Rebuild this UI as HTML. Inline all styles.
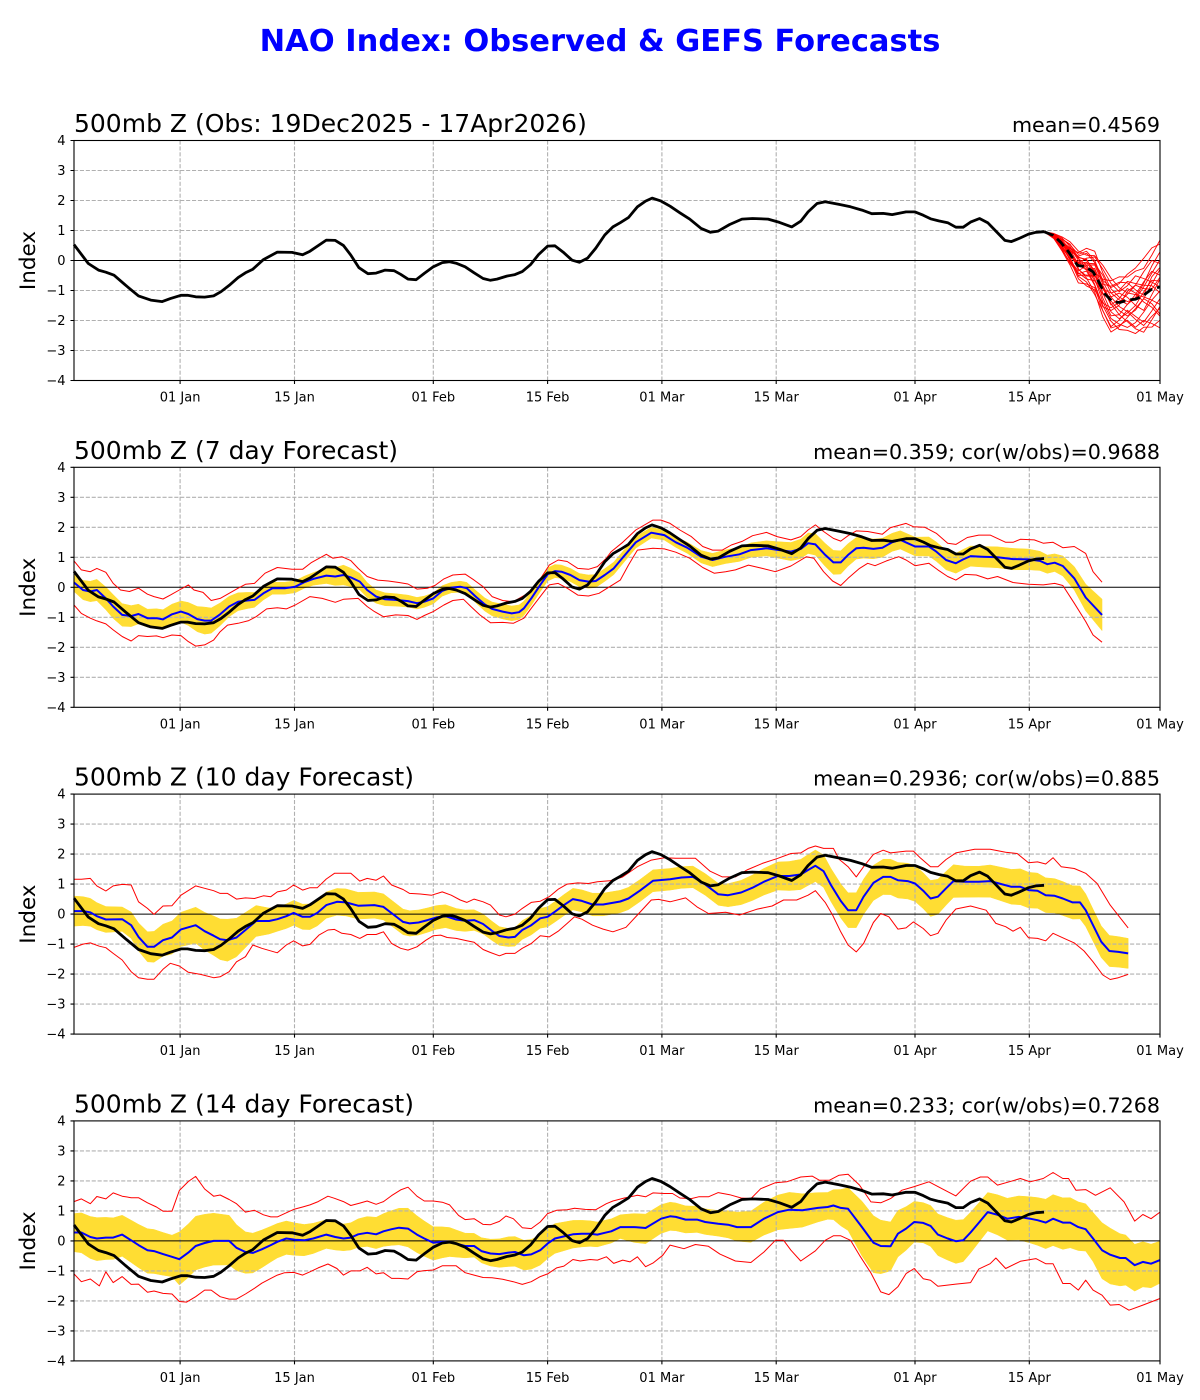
<!DOCTYPE html>
<html>
<head>
<meta charset="utf-8">
<style>
html,body{margin:0;padding:0;background:#fff;}
svg{display:block;}
text{font-family:"DejaVu Sans","Liberation Sans",sans-serif;fill:#000;}
</style>
</head>
<body>
<svg id="s" width="1200" height="1400" viewBox="0 0 1200 1400" xmlns="http://www.w3.org/2000/svg">
<rect x="0" y="0" width="1200" height="1400" fill="#fff"/>
<defs>
<g id="grid" stroke="#b0b0b0" stroke-width="1.1" stroke-dasharray="4.1,1.8" fill="none">
<path d="M74,30H1160M74,60H1160M74,90H1160M74,150H1160M74,180H1160M74,210H1160"/>
<path d="M180.1,0V240M294.5,0V240M433.3,0V240M547.6,0V240M661.9,0V240M776.2,0V240M915,0V240M1029.3,0V240"/>
</g>
<g id="axes">
<rect x="74" y="0" width="1086" height="240" fill="none" stroke="#000" stroke-width="1.1"/>
<path d="M70.5,0H74M70.5,30H74M70.5,60H74M70.5,90H74M70.5,120H74M70.5,150H74M70.5,180H74M70.5,210H74M70.5,240H74M180.1,240V243.5M294.5,240V243.5M433.3,240V243.5M547.6,240V243.5M661.9,240V243.5M776.2,240V243.5M915,240V243.5M1029.3,240V243.5M1160,240V243.5" stroke="#000" stroke-width="1.1" fill="none"/>
<g font-size="13" text-anchor="end">
<text x="65.5" y="4.5">4</text>
<text x="65.5" y="34.5">3</text>
<text x="65.5" y="64.5">2</text>
<text x="65.5" y="94.5">1</text>
<text x="65.5" y="124.5">0</text>
<text x="65.5" y="154.5">−1</text>
<text x="65.5" y="184.5">−2</text>
<text x="65.5" y="214.5">−3</text>
<text x="65.5" y="244.5">−4</text>
</g>
<g font-size="13" text-anchor="middle">
<text x="180.1" y="261">01 Jan</text>
<text x="294.5" y="261">15 Jan</text>
<text x="433.3" y="261">01 Feb</text>
<text x="547.6" y="261">15 Feb</text>
<text x="661.9" y="261">01 Mar</text>
<text x="776.2" y="261">15 Mar</text>
<text x="915" y="261">01 Apr</text>
<text x="1029.3" y="261">15 Apr</text>
<text x="1160" y="261">01 May</text>
</g>
</g>
</defs>

<text x="600" y="51" text-anchor="middle" font-size="30.5" font-weight="bold" style="fill:#0000ff">NAO Index: Observed &amp; GEFS Forecasts</text>

<g transform="translate(0,140.5)">
<use href="#grid"/>
<line x1="74" y1="120" x2="1160" y2="120" stroke="#000" stroke-width="1"/>
<g id="L0"></g>
<use href="#axes"/>
<text x="74" y="-8.5" font-size="25">500mb Z (Obs: 19Dec2025 - 17Apr2026)</text>
<text x="1160" y="-8.5" font-size="20.65" text-anchor="end">mean=0.4569</text>
<text transform="translate(35,120) rotate(-90)" font-size="21.5" text-anchor="middle">Index</text>
</g>

<g transform="translate(0,467.3)">
<g id="B1"></g>
<use href="#grid"/>
<line x1="74" y1="120" x2="1160" y2="120" stroke="#000" stroke-width="1"/>
<g id="L1"></g>
<use href="#axes"/>
<text x="74" y="-8.5" font-size="25">500mb Z (7 day Forecast)</text>
<text x="1160" y="-8.5" font-size="20.65" text-anchor="end">mean=0.359; cor(w/obs)=0.9688</text>
<text transform="translate(35,120) rotate(-90)" font-size="21.5" text-anchor="middle">Index</text>
</g>

<g transform="translate(0,794.1)">
<g id="B2"></g>
<use href="#grid"/>
<line x1="74" y1="120" x2="1160" y2="120" stroke="#000" stroke-width="1"/>
<g id="L2"></g>
<use href="#axes"/>
<text x="74" y="-8.5" font-size="25">500mb Z (10 day Forecast)</text>
<text x="1160" y="-8.5" font-size="20.65" text-anchor="end">mean=0.2936; cor(w/obs)=0.885</text>
<text transform="translate(35,120) rotate(-90)" font-size="21.5" text-anchor="middle">Index</text>
</g>

<g transform="translate(0,1120.9)">
<g id="B3"></g>
<use href="#grid"/>
<line x1="74" y1="120" x2="1160" y2="120" stroke="#000" stroke-width="1"/>
<g id="L3"></g>
<use href="#axes"/>
<text x="74" y="-8.5" font-size="25">500mb Z (14 day Forecast)</text>
<text x="1160" y="-8.5" font-size="20.65" text-anchor="end">mean=0.233; cor(w/obs)=0.7268</text>
<text transform="translate(35,120) rotate(-90)" font-size="21.5" text-anchor="middle">Index</text>
</g>
</svg>

<script>
(function(){
var NS='http://www.w3.org/2000/svg';
function X(d){return 74+d*1086/133;}
function Y(v){return 120-30*v;}
function poly(parent,pts,attrs,tag){
  var e=document.createElementNS(NS,tag||'polyline');
  e.setAttribute('points',pts.map(function(p){return p[0].toFixed(2)+','+p[1].toFixed(2);}).join(' '));
  for(var k in attrs) e.setAttribute(k,attrs[k]);
  parent.appendChild(e);
}
function toPts(arr){var p=[];for(var i=0;i<arr.length;i+=2)p.push([X(arr[i]),Y(arr[i+1])]);return p;}
function itp(tab,d){
  if(d<=tab[0][0])return [tab[0][1],tab[0][2]];
  for(var i=1;i<tab.length;i++){
    if(d<=tab[i][0]){var a=tab[i-1],b=tab[i],t=(d-a[0])/(b[0]-a[0]);return [a[1]+t*(b[1]-a[1]),a[2]+t*(b[2]-a[2])];}
  }
  var l=tab[tab.length-1];return [l[1],l[2]];
}
function band(parent,blue,off){
  var up=[],lo=[];
  for(var i=0;i<blue.length;i+=2){
    var d=blue[i],v=blue[i+1],o=itp(off,d);
    up.push([X(d),Y(v+o[0])]);lo.push([X(d),Y(v-o[1])]);
  }
  poly(parent,up.concat(lo.reverse()),{fill:'#ffdd33',stroke:'#ffdd33','stroke-width':'0.5'},'polygon');
}
function sym(a){return a.map(function(r){return [r[0],r[1],r[1]];});}

var OBS=[0,0.53,1.75,-0.1,3,-0.32,3.9,-0.39,4.9,-0.49,6.3,-0.82,7.9,-1.18,9.4,-1.32,10.8,-1.37,11.8,-1.27,13.1,-1.16,13.9,-1.16,14.9,-1.21,16,-1.22,17.1,-1.18,18,-1.04,19,-0.83,20.1,-0.57,21,-0.41,21.9,-0.29,23.2,0.03,24.9,0.28,26.7,0.27,28,0.19,28.9,0.31,30.9,0.68,32,0.67,33,0.5,33.9,0.18,34.9,-0.24,36,-0.44,37,-0.42,38.1,-0.32,39.2,-0.34,40,-0.46,40.9,-0.62,41.9,-0.64,42.9,-0.43,44,-0.21,45.1,-0.07,46,-0.04,46.8,-0.09,47.9,-0.21,49,-0.41,50.1,-0.6,51,-0.66,51.8,-0.62,53,-0.52,54,-0.47,54.9,-0.37,55.9,-0.14,56.9,0.2,58,0.48,58.9,0.49,59.9,0.28,61,0.01,61.9,-0.06,62.9,0.08,63.9,0.41,65,0.85,66,1.12,66.9,1.26,67.9,1.43,69,1.79,70,1.98,70.8,2.08,71.9,1.98,73,1.81,74.2,1.59,75.4,1.38,76.8,1.07,77.95,0.94,78.9,0.98,80.3,1.2,81.8,1.38,83.1,1.4,85,1.38,86.4,1.27,87.9,1.12,89,1.31,89.9,1.62,91,1.9,92,1.96,93.7,1.87,95.1,1.79,96.5,1.68,97.7,1.56,99.1,1.57,100.2,1.53,101.9,1.62,103,1.62,104,1.51,104.9,1.39,105.9,1.32,107,1.26,108,1.11,108.9,1.11,109.8,1.28,110.9,1.4,111.9,1.26,112.9,0.98,114,0.67,114.8,0.63,115.7,0.73,116.9,0.88,117.8,0.94,118.8,0.96];

var OBSATTR={fill:'none',stroke:'#000','stroke-width':'2.8','stroke-linejoin':'round'};

/* ---- Panel 0: observed + ensemble ---- */
var L0=document.getElementById('L0');
var ED=[118.8,120,121,122,123,124,125,126,127,128,129,130,131,132,133];
var EM=[0.96,0.82,0.56,0.22,-0.16,-0.22,-0.45,-1.0,-1.35,-1.4,-1.32,-1.29,-1.16,-0.96,-0.88];
var ES=[0,0.05,0.12,0.2,0.28,0.33,0.38,0.42,0.45,0.45,0.48,0.52,0.56,0.6,0.65];
var Z=[
[0,1.0,1.2,1.5,1.3,1.6,1.2,0.8,1.0,1.4,1.8,2.0,2.2,2.3,2.2],
[0,-1.0,-1.2,-0.8,-1.3,-1.5,-1.8,-1.6,-2.0,-1.7,-1.4,-1.8,-1.5,-1.9,-2.1],
[0,0.5,0.8,0.3,-0.2,0.4,0.9,1.2,0.6,0.2,-0.3,0.1,0.7,1.3,1.8],
[0,-0.4,0.2,0.6,1.0,0.7,0.3,-0.2,-0.8,-1.2,-0.9,-0.4,0.2,0.5,0.3],
[0,1.3,1.6,1.2,0.8,0.2,-0.4,-0.9,-1.3,-1.6,-1.9,-1.5,-1.0,-0.6,-0.9],
[0,-1.5,-1.8,-1.4,-0.9,-1.2,-0.6,0.1,0.6,0.9,1.3,1.0,0.6,0.2,-0.3],
[0,0.2,-0.5,-1.0,-1.6,-1.9,-1.4,-1.0,-0.5,0.0,0.4,0.9,1.4,1.6,1.2],
[0,0.8,0.4,-0.2,0.3,0.9,1.5,1.7,1.3,0.8,1.0,1.5,1.0,0.4,0.0],
[0,-0.7,-0.3,0.1,-0.5,-0.9,-0.2,0.4,0.0,-0.6,-1.1,-0.7,-0.2,-0.8,-1.4],
[0,1.6,1.9,2.0,1.7,1.2,1.6,2.0,1.7,1.1,0.5,0.3,0.8,1.0,0.6],
[0,-1.8,-2.0,-1.9,-2.1,-1.7,-1.2,-1.6,-1.9,-1.3,-0.7,-1.1,-1.6,-1.2,-0.6],
[0,0.0,0.5,1.0,0.6,0.0,-0.6,-0.3,0.3,0.7,0.2,-0.4,-0.9,-0.3,0.4],
[0,-0.2,-0.8,-0.5,0.2,0.5,0.0,-0.6,-1.1,-0.9,-0.3,0.3,-0.1,-0.6,-0.2],
[0,0.6,1.0,0.7,0.1,-0.3,0.5,0.2,-0.3,0.3,0.8,0.4,-0.4,-1.0,-1.5],
[0,-1.2,-0.6,-1.1,-0.7,0.2,0.8,0.5,1.1,1.5,1.2,0.6,0.0,0.7,1.0],
[0,0.4,-0.1,0.4,1.1,1.4,1.0,0.7,0.3,-0.3,-0.8,-1.3,-1.8,-1.5,-1.1],
[0,-0.5,-1.4,-1.6,-1.0,-0.4,-1.0,-1.3,-0.7,-0.2,0.6,0.9,0.4,0.0,0.5],
[0,1.1,0.6,0.9,1.5,1.9,2.0,1.4,0.9,0.4,-0.1,0.0,0.5,0.9,1.4],
[0,-0.9,-1.0,-0.3,0.4,-0.2,-0.9,-1.2,-1.5,-2.0,-2.1,-2.2,-1.9,-2.1,-1.7],
[0,0.3,1.3,1.6,0.9,0.8,0.1,0.9,1.5,1.9,1.6,1.8,1.6,1.9,2.4],
[0,0.7,0.9,0.4,-0.4,-1.1,-1.6,-2.1,-2.3,-1.8,-1.2,-0.6,-0.2,0.3,0.9],
[0,-0.3,0.1,-0.6,-1.2,-0.8,-0.1,0.3,-0.2,-0.9,-1.5,-1.9,-2.2,-1.7,-1.0]
];
Z.forEach(function(z){
  var p=[];for(var i=0;i<ED.length;i++)p.push([X(ED[i]),Y(EM[i]+ES[i]*z[i])]);
  poly(L0,p,{fill:'none',stroke:'#ff0000','stroke-width':'0.9','stroke-linejoin':'round'});
});
var MEANF=[118.8,0.96,119.9,0.84,120.8,0.62,121.8,0.29,122.9,-0.16,123.9,-0.21,124.8,-0.38,125.5,-0.71,126.2,-1.1,127.2,-1.38,128.1,-1.4,129,-1.32,130,-1.29,130.9,-1.18,131.9,-0.97,133,-0.88];
poly(L0,toPts(MEANF),{fill:'none',stroke:'#000','stroke-width':'2.8','stroke-dasharray':'10,5'});
poly(L0,toPts(OBS),OBSATTR);

/* ---- Panel 1: 7 day ---- */
var BL2=[0,0.16,1.1,-0.09,2,-0.14,2.8,-0.09,3.9,-0.37,4.8,-0.64,5.9,-0.92,7,-0.96,7.9,-0.89,9,-1.03,10.1,-1.03,10.9,-1.07,12,-0.9,13.1,-0.81,14,-0.89,15.1,-1.06,16,-1.11,16.8,-1.11,17.9,-0.9,19,-0.64,20.1,-0.48,21.2,-0.44,22.1,-0.42,23.2,-0.2,24.3,-0.03,25.8,-0.03,27.1,0.02,28.2,0.17,29.3,0.28,30.9,0.39,32,0.36,33,0.41,33.9,0.33,35,0.19,35.9,-0.09,37,-0.31,38.1,-0.4,39.4,-0.42,40.9,-0.46,42,-0.53,42.9,-0.48,44,-0.37,45.1,-0.12,46.2,-0.01,47.3,0.02,48.1,-0.03,49.2,-0.31,50.3,-0.57,51.2,-0.72,52.5,-0.81,53.6,-0.87,54.5,-0.83,55.1,-0.7,56,-0.37,57.1,0.08,58,0.43,58.9,0.54,59.7,0.52,60.8,0.41,61.9,0.24,63,0.19,63.9,0.21,65,0.41,66.1,0.63,67.2,0.99,68.8,1.5,70.7,1.82,72.3,1.74,73.7,1.5,75.1,1.32,76.8,1.02,78.2,0.91,79.8,1.02,81.5,1.1,82.9,1.24,84.8,1.3,86.4,1.24,87.8,1.19,89,1.28,89.9,1.47,90.8,1.43,92,1.08,93,0.83,93.9,0.83,94.8,1.08,95.8,1.3,96.7,1.32,97.9,1.28,99,1.32,100.2,1.5,101.2,1.58,102.1,1.47,103,1.36,104.7,1.36,105.6,1.19,106.8,0.91,108,0.8,108.9,0.93,109.8,1.04,111.2,1.02,113.1,1.0,115,0.94,116.9,0.93,118.3,0.88,119.2,0.77,120.1,0.82,121.1,0.71,122.5,0.3,123.9,-0.34,125.9,-0.92];
var OFF2=sym([[0,0.3],[5,0.4],[9,0.3],[13,0.35],[16,0.45],[20,0.3],[24,0.2],[29,0.2],[33,0.33],[37,0.22],[46,0.17],[53,0.25],[58,0.22],[63,0.22],[68,0.2],[73,0.16],[78,0.22],[85,0.25],[93,0.4],[100,0.3],[108,0.33],[116,0.36],[120,0.29],[126,0.53]]);
var RU2=[0,0.88,0.9,0.58,2,0.52,2.8,0.63,3.9,0.5,4.8,0.13,5.7,-0.09,6.8,-0.14,7.9,-0.03,9,-0.23,9.8,-0.31,10.9,-0.39,11.8,-0.26,12.9,-0.09,14,0.08,14.7,-0.09,15.8,-0.17,16.8,-0.44,17.9,-0.37,19,-0.2,20.1,-0.03,21,0.1,22.1,0.13,23.4,0.47,24.9,0.66,26.7,0.6,28,0.6,29.1,0.83,30.9,1.1,31.7,0.97,32.8,1.02,33.9,0.89,34.8,0.63,35.9,0.36,37.2,0.24,38.5,0.21,39.8,0.16,40.9,0.11,42,-0.06,43.3,-0.03,44.2,0.06,45.3,0.28,46.4,0.41,47.9,0.44,49,0.24,50.1,0.02,51.2,-0.31,52.5,-0.44,53.8,-0.48,54.9,-0.31,55.8,-0.17,56.9,0.19,58.2,0.74,59.3,0.91,60.4,0.86,61.7,0.63,63,0.6,64.1,0.69,65.2,0.97,65.8,1.19,67.2,1.5,68.8,1.91,70.9,2.24,71.9,2.24,73,2.13,74.2,1.91,75.6,1.69,77,1.36,78.2,1.24,79.4,1.24,80.5,1.41,81.9,1.54,83.1,1.72,84.8,1.83,86.1,1.69,87.8,1.58,89,1.69,89.9,1.91,90.8,2.08,91.8,1.86,93,1.63,93.9,1.54,94.8,1.72,95.8,1.88,97.2,1.86,99,1.77,100,1.99,101.9,2.13,102.8,2.02,104.2,2.0,105.6,1.8,107,1.47,108,1.43,109.4,1.66,110.8,1.74,112.2,1.74,114.1,1.5,115,1.5,115.9,1.6,117.6,1.58,118.7,1.47,119.9,1.5,121.1,1.32,122.5,1.36,123.9,1.13,124.8,0.52,125.9,0.17];
var RL2=[0,-0.59,0.9,-0.87,2,-1.03,2.8,-1.12,3.9,-1.22,4.8,-1.42,5.9,-1.64,7,-1.79,7.9,-1.61,9,-1.64,10.1,-1.62,10.9,-1.68,12,-1.59,13.1,-1.61,14,-1.81,14.9,-1.96,16,-1.92,17.1,-1.76,17.9,-1.48,18.8,-1.26,20.1,-1.2,21.4,-1.11,22.3,-0.98,23.6,-0.72,24.9,-0.68,26,-0.72,27.1,-0.59,28.9,-0.31,30.4,-0.37,32,-0.5,33,-0.4,34.8,-0.37,35.9,-0.64,36.8,-0.81,37.9,-0.98,39.4,-0.92,40.9,-0.94,42,-1.07,42.9,-0.94,44,-0.81,45.3,-0.59,46.4,-0.44,47.7,-0.4,48.6,-0.64,49.7,-0.92,51,-1.18,52.5,-1.17,53.8,-1.2,55.1,-1.03,56,-0.7,57.1,-0.31,58.2,0.08,59.3,0.13,60.4,-0.03,61.7,-0.26,63,-0.29,64.3,-0.2,65.6,0.02,66.9,0.24,67.9,0.74,69,1.24,70.9,1.3,72.3,1.28,73.7,1.17,75.4,0.97,77,0.66,78.4,0.47,79.8,0.52,81,0.58,82.6,0.74,84.3,0.63,85.9,0.52,87.8,0.71,89.7,1.02,90.6,0.97,91.8,0.52,92.9,0.21,93.9,0.06,94.8,0.3,96.2,0.63,97.2,0.8,98.1,0.72,99.5,0.88,101,1.02,101.9,0.91,103,0.72,104.7,0.8,105.8,0.58,107,0.36,108,0.24,109.1,0.43,110.5,0.41,111.9,0.28,113.1,0.36,115,0.16,116.9,0.1,118.7,0.08,120.1,0.13,121.1,0.06,122.5,-0.53,123.9,-1.14,124.8,-1.59,125.9,-1.83];

/* ---- Panel 2: 10 day ---- */
var BL3=[0,0.1,1.1,0.1,2,0.06,2.8,-0.07,3.9,-0.18,5.9,-0.17,7,-0.37,7.9,-0.76,9,-1.09,9.8,-1.09,10.9,-0.87,12,-0.78,13.1,-0.51,14.9,-0.37,16,-0.57,17.1,-0.72,17.9,-0.84,18.8,-0.87,19.9,-0.78,21,-0.53,22.3,-0.23,23.9,-0.23,24.9,-0.17,26,-0.07,26.9,0.04,28,-0.09,28.9,-0.09,29.8,0.04,30.9,0.3,32.2,0.41,33.3,0.39,34.8,0.28,36.8,0.3,37.9,0.24,39.2,-0.03,40.3,-0.26,41.1,-0.31,42.2,-0.28,43.3,-0.2,44.4,-0.11,45.5,-0.07,46.8,-0.18,47.9,-0.22,49,-0.2,50.1,-0.33,51.2,-0.56,52.1,-0.73,53.2,-0.78,54,-0.76,54.9,-0.53,56,-0.37,57.1,-0.14,58,-0.09,58.9,0.08,60,0.3,61.1,0.5,62.2,0.44,63.5,0.32,64.8,0.32,66.9,0.42,67.9,0.52,69.3,0.78,70.9,1.11,73,1.16,74.4,1.22,75.8,1.24,77.3,0.99,78.9,0.66,80.1,0.63,81.7,0.72,83.1,0.88,84.5,1.08,86.2,1.27,87.6,1.27,89,1.32,89.9,1.47,90.8,1.61,91.8,1.43,92.7,0.97,93.9,0.44,94.8,0.13,95.8,0.13,96.7,0.58,97.9,1.04,99.1,1.24,100,1.24,100.9,1.13,102.1,1.1,103,1.02,104,0.78,104.9,0.52,105.8,0.58,106.8,0.86,107.7,1.1,109.1,1.08,110.8,1.08,112.2,1.1,113.3,1.02,114.8,0.91,115.9,0.91,116.9,0.8,118,0.78,119,0.63,120.1,0.61,121.1,0.52,122.3,0.39,123.2,0.39,123.9,0.13,124.8,-0.37,125.8,-0.92,126.8,-1.23,127.9,-1.26,129.1,-1.31];
var OFF3=sym([[0,0.5],[5.7,0.4],[9,0.5],[14.9,0.6],[18.8,0.7],[24.5,0.4],[33,0.45],[42,0.42],[53,0.3],[64,0.38],[72.6,0.36],[78.4,0.36],[85,0.45],[94.8,0.58],[104.9,0.6],[110,0.5],[116,0.6],[123,0.55],[129,0.5]]);
var RU3=[0,1.16,0.9,1.16,2,1.19,2.8,0.94,3.9,0.77,4.8,0.94,5.9,0.99,7,0.97,7.9,0.41,9,0.19,9.8,-0.01,10.9,0.27,12,0.28,13.1,0.63,14.9,0.94,16,0.86,17.1,0.78,17.9,0.69,18.8,0.69,19.9,0.5,21,0.54,22.1,0.52,23.2,0.61,24.1,0.58,24.9,0.74,26,0.8,26.9,0.97,28,0.8,28.9,0.88,29.8,0.88,30.9,1.17,31.9,1.36,33.9,1.36,35,1.1,35.9,1.19,37,1.13,37.9,1.27,38.9,0.97,40.3,0.82,41.1,0.69,42.4,0.67,43.8,0.63,45.1,0.74,46.2,0.63,47.3,0.47,48.1,0.39,49,0.5,50.1,0.41,51,0.3,52.1,-0.03,52.9,-0.09,54,0,54.9,0.19,56,0.39,57.1,0.43,58.2,0.58,59.3,0.83,60.4,1.0,61.7,1.04,63,1.02,64.1,1.08,65.6,1.11,66.9,1.21,67.2,1.24,69,1.58,70.7,1.8,72.3,1.88,73.7,1.86,76.1,1.86,77.9,1.43,79.4,1.24,81,1.24,82.4,1.47,84.3,1.69,86.2,1.86,87.8,2.02,89,2.04,89.9,2.19,90.8,2.27,91.8,2.19,93,2.19,93.7,1.83,94.8,1.58,95.8,1.24,96.7,1.58,97.9,1.99,99.1,2.13,100,2.04,101.9,2.1,102.8,2.1,103.7,1.86,104.9,1.58,105.8,1.58,106.8,1.82,108,2.04,110.3,2.16,112.2,2.16,114.1,2.06,115.5,2.02,116.9,1.71,118,1.74,119,1.67,119.9,1.88,120.9,1.58,122.5,1.52,123.9,1.36,125.3,1.02,126.9,0.3,129.1,-0.46];
var RL3=[0,-1.11,1.1,-1.0,2,-0.96,3.1,-1.07,3.9,-1.12,4.8,-1.31,5.9,-1.53,7,-1.92,7.9,-2.12,9,-2.17,9.8,-2.17,10.9,-1.84,11.8,-1.64,12.9,-1.73,14,-1.94,15.5,-2.01,17.1,-2.12,17.9,-2.09,19,-1.92,19.9,-1.59,21,-1.42,21.9,-1.03,23,-1.14,24.9,-1.29,26,-1.03,26.9,-0.89,28,-1.06,28.9,-1.01,30,-0.7,31.1,-0.53,31.9,-0.51,32.8,-0.64,33.9,-0.68,35,-0.81,35.9,-0.68,37,-0.68,37.9,-0.59,38.9,-0.98,40,-1.14,40.9,-1.2,42,-1.09,43.1,-0.87,44,-0.72,44.9,-0.7,45.7,-0.78,46.8,-0.81,48.1,-0.89,49,-0.94,50.1,-1.18,51,-1.28,52.1,-1.39,52.9,-1.31,54,-1.31,54.9,-1.14,56,-0.98,57.1,-0.72,58.2,-0.76,59.3,-0.57,60.4,-0.31,61.3,-0.09,62.2,-0.17,63.5,-0.37,64.8,-0.5,66,-0.59,67.6,-0.44,69,-0.03,70.7,0.47,71.6,0.49,73,0.41,74.9,0.54,76.3,0.24,77.7,0.02,79.8,0.06,81.5,-0.03,83.6,0.16,85.5,0.27,86.9,0.47,88.5,0.47,89.9,0.63,90.8,0.78,92,0.39,92.9,-0.03,93.9,-0.59,94.8,-1.03,95.8,-1.26,96.7,-0.98,97.9,-0.28,98.8,0.02,99.8,-0.09,100.9,-0.5,101.9,-0.46,102.8,-0.26,104,-0.48,104.9,-0.72,105.8,-0.64,106.8,-0.2,108,0.17,109.8,0.27,111.7,0.13,112.9,-0.31,114.1,-0.42,115,-0.57,115.9,-0.44,116.9,-0.79,118,-0.81,119,-0.89,119.9,-0.64,121.1,-0.79,122.5,-0.96,123.7,-1.23,124.8,-1.59,126,-2.03,126.9,-2.18,127.9,-2.12,129.1,-2.01];

/* ---- Panel 3: 14 day ---- */
var BL4=[0,0.28,0.9,0.28,2,0.13,2.8,0.08,3.9,0.11,4.8,0.11,5.9,0.21,7,0.02,7.9,-0.14,9,-0.31,9.8,-0.34,10.9,-0.44,12,-0.53,12.9,-0.61,14,-0.39,14.9,-0.17,16,-0.07,17.1,0,19,0,19.9,-0.23,21,-0.37,21.9,-0.4,23,-0.28,24.1,-0.14,24.9,-0.03,26,0.08,27.1,0.04,28.2,0.02,29.3,0.08,29.9,0.13,30.9,0.21,32,0.13,33,0.08,33.9,0.11,34.8,0.22,35.9,0.27,37,0.22,37.9,0.32,38.9,0.39,39.8,0.44,40.9,0.41,42,0.21,42.9,0.08,44,-0.06,45.1,-0.03,46,-0.03,46.8,-0.09,47.9,-0.17,49,-0.17,49.9,-0.34,51,-0.42,52.1,-0.44,53.2,-0.39,54,-0.37,55.1,-0.48,56,-0.45,57.1,-0.31,58,-0.09,58.9,0.08,60,0.15,61.1,0.22,62.2,0.24,63.2,0.24,64.1,0.21,65,0.27,65.8,0.32,66.9,0.46,68.6,0.46,70,0.43,71.9,0.74,73,0.82,73.7,0.8,74.9,0.71,76.3,0.71,77.3,0.63,78.9,0.57,80.1,0.54,81.2,0.46,82.9,0.46,84.5,0.74,86.2,0.96,87.6,1.04,89.2,1.02,91.1,1.1,92.3,1.13,93,1.18,93.9,1.1,94.8,1.07,96.5,0.46,97.9,-0.06,98.8,-0.17,100,-0.18,100.9,0.24,101.9,0.41,102.9,0.63,104,0.6,104.9,0.5,105.8,0.21,107,0.08,108,-0.01,108.9,0.02,109.8,0.28,110.8,0.6,111.9,0.96,113.1,0.87,114.3,0.74,115.7,0.8,117.1,0.74,118,0.69,119,0.61,119.9,0.74,121.1,0.61,122,0.61,123,0.46,123.9,0.39,124.8,0.08,125.9,-0.31,126.9,-0.46,128.1,-0.57,128.8,-0.57,129.9,-0.81,130.9,-0.7,131.9,-0.76,133,-0.64];
var OFF4=[[0,0.63,0.64],[2.6,0.7,0.74],[5.7,0.64,0.72],[9.2,0.72,0.77],[12,0.72,0.66],[12.9,0.91,0.86],[14.9,0.99,0.8],[18.8,0.87,0.81],[21,0.67,0.71],[24.5,0.62,0.54],[28.9,0.51,0.51],[33.3,0.48,0.4],[37.6,0.58,0.49],[40.9,0.68,0.61],[44.2,0.52,0.58],[48.6,0.41,0.36],[52.9,0.53,0.46],[55.1,0.5,0.49],[58.6,0.5,0.5],[63.9,0.42,0.41],[66.9,0.41,0.38],[69,0.46,0.54],[73,0.47,0.47],[78.4,0.43,0.4],[83.1,0.54,0.51],[87.8,0.58,0.63],[92.5,0.48,0.4],[97.2,0.93,1.06],[100,0.81,0.82],[103.3,0.67,0.65],[108,0.7,0.74],[111.7,0.65,0.62],[115.9,0.7,0.77],[120.6,0.82,0.92],[124.4,0.85,0.7],[126.2,0.93,1.0],[130,0.69,0.86],[133,0.63,0.77]];
var RU4=[0,1.31,0.9,1.4,2,1.24,2.8,1.48,3.9,1.4,4.8,1.6,5.9,1.49,7,1.44,7.9,1.44,9,1.27,10.1,1.13,10.9,0.99,12,0.99,12.9,1.68,14,1.98,14.9,2.15,16,1.73,17.1,1.49,17.9,1.53,19,1.38,19.9,1.24,21,0.96,22.1,1.02,23.2,0.87,24.1,0.8,24.9,0.8,25.8,0.91,26.9,1.05,28,1.13,28.9,1.2,29.9,1.31,31.1,1.49,31.9,1.42,33,1.31,33.9,1.18,35,1.26,35.9,1.33,37,1.22,37.9,1.31,38.9,1.51,40,1.7,40.9,1.79,42,1.49,42.9,1.33,44,1.33,45.1,1.29,46,1.2,47.1,0.85,47.9,0.71,49,0.74,50.1,0.55,51,0.54,52.1,0.65,52.9,0.83,53.8,0.74,54.9,0.44,56,0.41,57.1,0.63,58,0.91,59.1,1.02,60.4,1.04,61.3,1.09,62.6,1.05,63.9,1.04,65.2,1.24,66,1.33,67.4,1.43,69,1.52,70,1.47,70.9,1.6,72.3,1.58,73.3,1.58,74.2,1.43,75.6,1.41,76.5,1.47,77.7,1.47,78.9,1.61,80.3,1.54,81.7,1.43,82.9,1.41,84.1,1.74,85.9,1.94,87.3,1.97,89,2.13,90.4,2.16,91.3,2.02,92.5,2.02,93.7,2.19,94.8,2.22,96.2,1.86,97.6,1.3,98.8,1.27,100,1.41,101.4,1.69,102.8,1.8,104.7,1.97,106.3,1.74,108,1.5,109.8,1.99,111,2.13,111.9,2.13,113.1,1.86,114.8,1.99,115.9,2.08,117.1,1.97,118.7,2.08,119.9,2.28,121.1,2.08,121.8,2.08,122.7,1.69,123.9,1.71,125.1,1.52,126.9,1.77,128.6,1.3,129.9,0.66,130.9,0.88,131.9,0.74,133,0.96];
var RL4=[0,-1.1,0.9,-1.36,2,-1.27,3.1,-1.5,3.9,-1.03,4.8,-1.39,5.9,-1.19,7,-1.45,7.9,-1.44,9,-1.71,9.8,-1.67,10.9,-1.75,12,-1.77,12.9,-2.02,13.8,-2.04,14.9,-1.86,16,-1.64,16.8,-1.64,17.9,-1.86,19,-1.94,19.9,-1.94,21,-1.77,22.1,-1.58,23,-1.41,24.1,-1.25,24.9,-1.14,25.8,-1.06,26.9,-1.05,28,-1.14,28.9,-1.03,29.9,-0.9,31.1,-0.77,32.2,-0.92,33,-1.14,33.9,-1.0,35,-1.0,35.9,-0.88,37,-1.1,37.9,-1.06,38.9,-1.25,39.8,-1.25,40.9,-1.27,42,-1.03,42.9,-0.99,44,-0.97,45.1,-0.83,46.8,-0.83,47.9,-1.06,49,-1.14,50.1,-1.22,51.2,-1.23,52.5,-1.28,53.8,-1.36,54.9,-1.45,56,-1.36,57.1,-1.19,58,-1.1,59.1,-0.9,60,-0.84,61.1,-0.62,62,-0.67,63.2,-0.62,64.1,-0.64,65.2,-0.53,66.1,-0.75,67.2,-0.64,68.1,-0.7,69,-0.53,70,-0.86,70.9,-0.74,72.1,-0.48,73,-0.14,74.7,-0.26,76.1,-0.12,77.7,-0.18,79.1,-0.44,81,-0.67,82.9,-0.72,84.5,-0.37,85.9,0.02,86.9,0.02,87.8,-0.31,89,-0.67,90.8,-0.33,92,0.02,93,0.17,93.9,0.17,95.1,0.02,96.2,-0.48,97.6,-1.07,98.8,-1.7,99.8,-1.79,100.9,-1.53,101.9,-1.09,102.9,-0.92,104,-1.26,104.9,-1.31,105.8,-1.51,108,-1.44,109.8,-1.39,110.8,-0.94,112.2,-0.76,112.9,-0.57,114.1,-0.92,115.9,-0.68,117.8,-0.59,119,-0.76,119.9,-0.76,121.1,-1.42,122,-1.42,123,-1.64,123.9,-1.31,124.8,-1.64,125.9,-1.81,126.9,-2.14,128,-2.12,129.2,-2.31,130.9,-2.14,133,-1.92];

var sets=[[BL2,OFF2,RU2,RL2],[BL3,OFF3,RU3,RL3],[BL4,OFF4,RU4,RL4]];
for(var k=0;k<3;k++){
  var B=document.getElementById('B'+(k+1)),L=document.getElementById('L'+(k+1)),s=sets[k];
  band(B,s[0],s[1]);
  var ra={fill:'none',stroke:'#ff0000','stroke-width':'1','stroke-linejoin':'round'};
  poly(L,toPts(s[2]),ra);
  poly(L,toPts(s[3]),ra);
  poly(L,toPts(s[0]),{fill:'none',stroke:'#0000ff','stroke-width':'2','stroke-linejoin':'round'});
  poly(L,toPts(OBS),OBSATTR);
}
})();
</script>
</body>
</html>
